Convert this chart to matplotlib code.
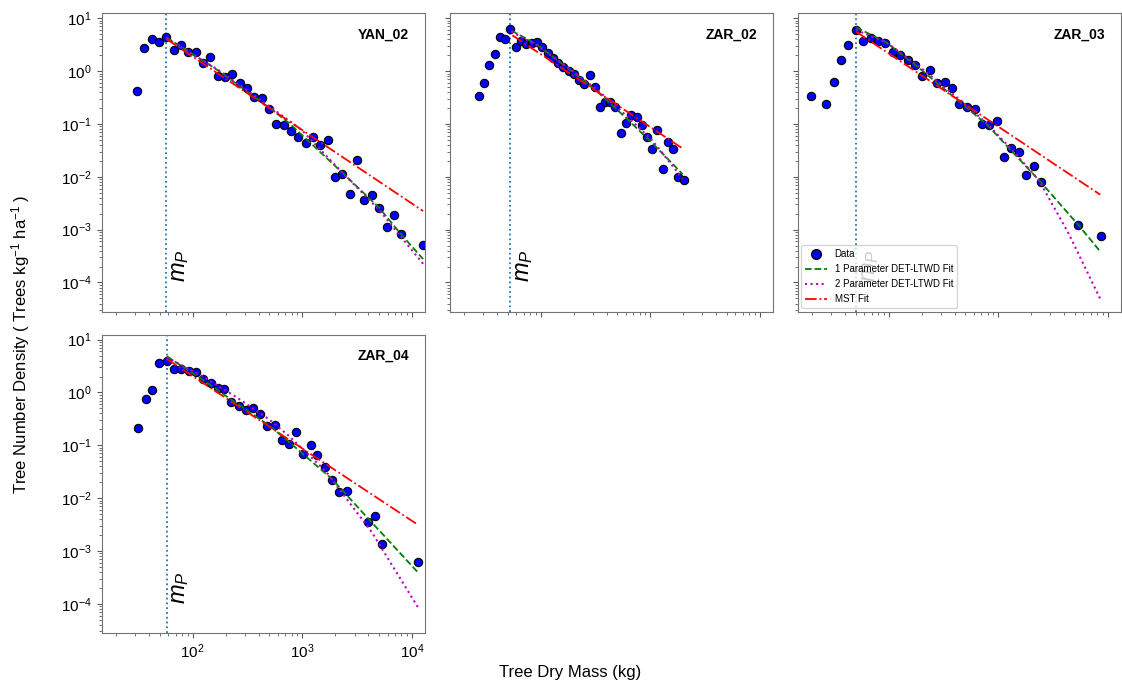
import matplotlib
matplotlib.use('Agg')
import matplotlib.pyplot as plt
from matplotlib.lines import Line2D

plt.rcParams['font.family'] = ['Liberation Sans', 'DejaVu Sans']
plt.rcParams['mathtext.fontset'] = 'custom'
plt.rcParams['mathtext.rm'] = 'Liberation Sans'
plt.rcParams['mathtext.it'] = 'Liberation Sans:italic'
plt.rcParams['mathtext.bf'] = 'Liberation Sans:bold'

# ---- data ----
sites = ['YAN_02', 'ZAR_02', 'ZAR_03', 'ZAR_04']
m_peak = [57.3, 53.1, 50.2, 58.0]

yan02_mass = [30.8, 36.2, 42.2, 49.2, 57.6, 67.3, 78.4, 91.4, 106.4, 125, 145.6, 169.8,
              197.8, 230.6, 270, 315, 367, 428, 499, 581, 677, 789, 920, 1079, 1258,
              1466, 1709, 1992, 2322, 2706, 3175, 3700, 4310, 5055, 5890, 6870, 8000, 12670]
yan02_dens = [0.42, 2.7, 4.0, 3.56, 4.49, 2.47, 3.17, 2.30, 2.30, 1.44, 1.85, 0.818,
              0.760, 0.893, 0.594, 0.484, 0.327, 0.308, 0.196, 0.1007, 0.0963, 0.0752,
              0.0562, 0.0427, 0.0571, 0.0402, 0.050, 0.00993, 0.0112, 0.0048, 0.0206,
              0.00359, 0.00459, 0.00261, 0.00112, 0.00192, 0.000838, 0.000518]

zar02_mass = [27.4, 30.6, 34.0, 38.0, 42.2, 47.5, 53.1, 59.3, 66.3, 74.2, 82.8, 92.6,
              103.5, 115.7, 129.4, 144.5, 161.5, 180.6, 201.8, 225.5, 250.6, 280, 313,
              347.5, 383, 431, 481, 542, 601, 672, 751, 840, 939, 1042, 1165, 1302,
              1446, 1616, 1806, 2033]
zar02_dens = [0.332, 0.603, 1.32, 2.14, 4.49, 4.11, 6.28, 2.90, 3.72, 3.21, 3.46, 3.56,
              2.82, 2.23, 1.74, 1.42, 1.19, 1.00, 0.879, 0.677, 0.569, 0.842, 0.491,
              0.208, 0.255, 0.255, 0.205, 0.067, 0.105, 0.147, 0.135, 0.0963, 0.0578,
              0.0343, 0.0785, 0.0139, 0.0446, 0.0333, 0.0101, 0.00885]

zar03_mass = [19.6, 27.0, 31.7, 36.8, 43.1, 50.2, 58.5, 68.7, 80.0, 93.3, 110, 128.5,
              149.6, 175.7, 203, 239, 278, 326, 380, 443, 520, 610, 711, 829, 966, 1133,
              1320, 1540, 1806, 2105, 2472, 5385, 8650]
zar03_dens = [0.332, 0.241, 0.630, 1.62, 3.08, 6.01, 3.77, 4.18, 3.67, 3.36, 2.30, 2.02,
              1.65, 1.32, 0.818, 1.05, 0.594, 0.621, 0.471, 0.237, 0.205, 0.196, 0.102,
              0.0963, 0.115, 0.0234, 0.0347, 0.0301, 0.0110, 0.0158, 0.0080, 0.00122,
              0.000757]

zar04_mass = [31.8, 37.2, 43.0, 49.8, 58.0, 67.7, 78.8, 92.0, 107.2, 125, 145.8, 168.8,
              195.4, 226.3, 263.8, 305.5, 356.2, 415, 481, 560, 649, 757, 882, 1021,
              1191, 1378, 1607, 1875, 2183, 2545, 3980, 4645, 5375, 11430]
zar04_dens = [0.216, 0.738, 1.11, 3.68, 4.02, 2.80, 2.72, 2.53, 2.42, 1.76, 1.50, 1.19,
              1.17, 0.667, 0.552, 0.464, 0.514, 0.385, 0.232, 0.245, 0.128, 0.107, 0.179,
              0.0676, 0.100, 0.0648, 0.039, 0.0225, 0.0128, 0.0137, 0.00352, 0.00457,
              0.00134, 0.000629]

# fitted curves
yan02_fit1_m = [57.7, 172, 489, 767, 2340, 5020, 7890, 12680]
yan02_fit1_n = [4.36, 1.02, 0.211, 0.102, 0.0118, 0.00261, 0.000838, 0.000277]
yan02_fit2_m = [57.7, 172, 489, 979, 2340, 5020, 7890, 12680]
yan02_fit2_n = [4.18, 1.05, 0.224, 0.0785, 0.0118, 0.00239, 0.000745, 0.000226]
yan02_mst_m = [57.6, 12670]
yan02_mst_n = [4.06, 0.00225]

zar02_fit1_m = [54.2, 91.4, 183, 331, 597, 1042, 1977]
zar02_fit1_n = [5.84, 3.26, 1.08, 0.406, 0.132, 0.0438, 0.0112]
zar02_fit2_m = [54.2, 91.4, 183, 331, 597, 1042, 1977]
zar02_fit2_n = [5.58, 3.12, 1.13, 0.438, 0.147, 0.0493, 0.00925]
zar02_mst_m = [55.3, 1977]
zar02_mst_n = [4.76, 0.0343]

zar03_fit1_m = [50.6, 95.9, 192, 443, 800, 1349, 2438, 5420, 8530]
zar03_fit1_n = [6.75, 3.46, 1.13, 0.263, 0.0948, 0.0296, 0.0080, 0.00121, 0.000387]
zar03_fit2_m = [50.6, 95.9, 192, 443, 800, 1349, 2353, 4405, 8530]
zar03_fit2_n = [6.01, 3.46, 1.21, 0.291, 0.0991, 0.0318, 0.0086, 0.000838, 4.9e-5]
zar03_mst_m = [50.6, 8530]
zar03_mst_n = [5.58, 0.00459]

zar04_fit1_m = [58.0, 123, 248, 498, 757, 1875, 4036, 11350]
zar04_fit1_n = [4.85, 1.76, 0.638, 0.238, 0.116, 0.0228, 0.00402, 0.000395]
zar04_fit2_m = [58.0, 123, 248, 498, 757, 1630, 4325, 11350]
zar04_fit2_n = [4.64, 2.03, 0.828, 0.310, 0.150, 0.0328, 0.00225, 8.65e-5]
zar04_mst_m = [58.0, 11100]
zar04_mst_n = [4.31, 0.00323]

panels = [
    (yan02_mass, yan02_dens, yan02_fit1_m, yan02_fit1_n, yan02_fit2_m, yan02_fit2_n, yan02_mst_m, yan02_mst_n),
    (zar02_mass, zar02_dens, zar02_fit1_m, zar02_fit1_n, zar02_fit2_m, zar02_fit2_n, zar02_mst_m, zar02_mst_n),
    (zar03_mass, zar03_dens, zar03_fit1_m, zar03_fit1_n, zar03_fit2_m, zar03_fit2_n, zar03_mst_m, zar03_mst_n),
    (zar04_mass, zar04_dens, zar04_fit1_m, zar04_fit1_n, zar04_fit2_m, zar04_fit2_n, zar04_mst_m, zar04_mst_n),
]

fig = plt.figure(figsize=(11.22, 6.88), dpi=100)
axes = fig.subplots(2, 3, sharex=True, sharey=True)
fig.subplots_adjust(left=0.0906, right=0.9991, top=0.9806, bottom=0.0799, wspace=0.076, hspace=0.077)

for k, ax in enumerate([axes[0, 0], axes[0, 1], axes[0, 2], axes[1, 0]]):
    mass, dens, f1m, f1n, f2m, f2n, mm, mn = panels[k]
    ax.set_xscale('log')
    ax.set_yscale('log')
    ax.plot(mass, dens, 'o', color='blue', mec='black', mew=0.8, ms=6.0, zorder=2)
    ax.plot(f1m, f1n, '--', color='green', lw=1.3, zorder=3)
    ax.plot(f2m, f2n, ':', color='m', lw=1.5, zorder=3)
    ax.plot(mm, mn, '-.', color='red', lw=1.3, zorder=3)
    ax.axvline(m_peak[k], ls=':', color='#1f77b4', lw=1.3, zorder=1)
    ax.text(m_peak[k] * 1.06, 1.0e-4, r'$m_P$', rotation=90, fontsize=17, va='bottom', ha='left')
    ax.text(0.95, 0.93, sites[k], transform=ax.transAxes, ha='right', va='center',
            fontsize=10, fontweight='bold')
    for s in ax.spines.values():
        s.set_color('0.45')
    ax.tick_params(which='both', color='0.35', labelsize=11)

axes[0, 0].set_xlim(14.8, 13200)
axes[0, 0].set_ylim(2.8e-5, 12.4)

axes[1, 1].axis('off')
axes[1, 2].axis('off')

handles = [
    Line2D([], [], ls='none', marker='o', color='blue', mec='black', ms=7),
    Line2D([], [], ls='--', color='green', lw=1.3),
    Line2D([], [], ls=':', color='m', lw=1.5),
    Line2D([], [], ls='-.', color='red', lw=1.3),
]
labels = ['Data', '1 Parameter DET-LTWD Fit', '2 Parameter DET-LTWD Fit', 'MST Fit']
axes[0, 2].legend(handles, labels, loc='lower left', fontsize=7, framealpha=0.8,
                  borderaxespad=0.4, handlelength=2.2)

fig.text(0.508, 0.022, 'Tree Dry Mass (kg)', ha='center', va='center', fontsize=12)
fig.text(0.018, 0.5, r'Tree Number Density ( Trees kg$^{-1}$ ha$^{-1}$ )',
         rotation=90, ha='center', va='center', fontsize=12)

fig.savefig('out.png', dpi=100)
